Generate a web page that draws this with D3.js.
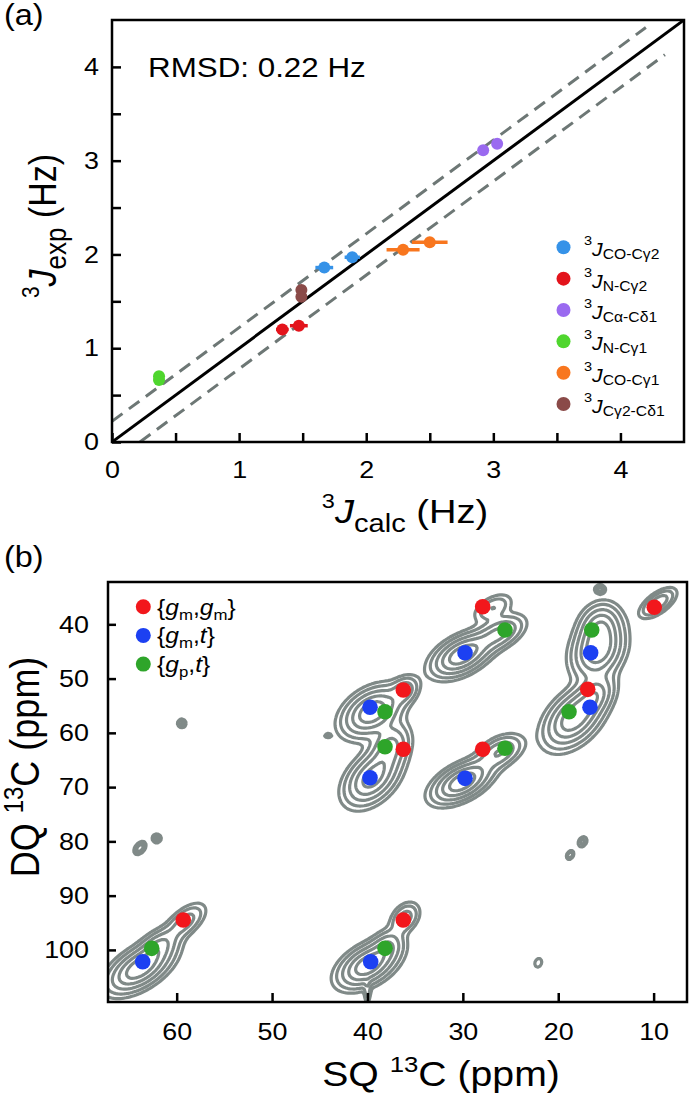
<!DOCTYPE html>
<html><head><meta charset="utf-8">
<script src="https://cdn.jsdelivr.net/npm/d3@7"></script>
<style>
body{margin:0;background:#fff}
svg{display:block}
text{font-family:"Liberation Sans",Arial,Helvetica,sans-serif;fill:#000}
</style>
</head><body>
<svg id="fig" width="691" height="1095"></svg>
<script>
// ---------------- Panel (a) data ----------------
const seriesSub = ["CO-C\u03b32","N-C\u03b32","C\u03b1-C\u03b41","N-C\u03b31","CO-C\u03b31","C\u03b32-C\u03b41"];
const seriesColors = ["#3592e8","#e3141c","#9a6af0","#4fd62e","#f8761e","#8a4a48"];
const jCalc = [[1.67,1.89],[1.34,1.47],[2.92,3.03],[0.37,0.37],[2.29,2.50],[1.49,1.49]];
const jExp  = [[1.86,1.97],[1.20,1.24],[3.11,3.18],[0.70,0.66],[2.05,2.13],[1.62,1.55]];
const jErr  = [[0.07,0.06],[0.05,0.07],[0.02,0.02],[0.04,0.04],[0.13,0.14],[0.01,0.01]];
const rmsd = 0.22;
const upperBandX = [0, 4.2];
const lowerBandX = [0.22, 4.35];
const ticksA = [0,0.5,1,1.5,2,2.5,3,3.5,4];

// ---------------- Panel (b) data ----------------
const ticksSQ = [60,50,40,30,20,10];
const ticksDQ = [40,50,60,70,80,90,100];
const rotColors = ["#f2171c","#1c40f2","#2ea52a"];
const rotFirst = ["m","m","p"];
const rotSecond = [["g","m"],["t",""],["t",""]];
const sqGmGm = [27.92, 9.93, 16.91, 36.24, 36.24, 27.92, 59.31, 36.24];
const dqGmGm = [36.75, 36.86, 51.98, 52.10, 63.03, 63.03, 94.49, 94.49];
const sqGmT  = [29.77, 16.60, 16.67, 39.73, 39.73, 29.77, 63.56, 39.66];
const dqGmT  = [45.23, 45.23, 55.29, 55.29, 68.27, 68.38, 102.18, 102.18];
const sqGpT  = [25.58, 16.49, 18.87, 38.16, 38.16, 25.58, 62.62, 38.16];
const dqGpT  = [41.05, 41.05, 56.10, 56.10, 62.55, 62.85, 99.71, 99.71];
// spectrum peaks (SQ ppm, DQ ppm, relative intensity, widths in ppm, tilt in degrees)
const peakSQ = [30.09,26.11,26.84, 15.83,15.62, 18.35,16.15, 9.54, 39.52,39.52,36.07,37.60, 30.09,26.11, 63.85,59.13,61.75, 39.94,36.07,37.85, 63.85,62.10,59.46,15.62,17.45,18.75,22.09,44.15,40.0];
const peakDQ = [45.65,41.60,36.99, 44.73,40.12, 57.26,53.03, 36.07, 56.16,68.32,52.10,62.50, 69.06,63.53, 103.34,94.86,99.10, 102.79,94.12,99.10, 81.22,79.44,58.26,33.55,80.08,82.51,102.38,60.53,107.8];
const peakAmp = [1,0.55,0.30, 1,0.55, 1,0.5, 0.45, 1,0.9,0.4,0.55, 1,0.5, 1,0.4,0.4, 1,0.4,0.35, 0.5,0.4,0.35,0.4,0.2,0.3,0.15,0.15,0.2];
const peakWAlong = [1.89,1.57,1.26, 1.78,1.36, 2.05,1.36, 1.26, 1.89,1.89,0.94,1.47, 1.89,1.47, 2.10,1.47,1.26, 1.89,1.05,1.05, 0.42,0.26,0.26,0.31,0.42,0.31,0.42,0.26,0.8];
const peakWAcross = [1.0,0.84,0.68, 1.36,1.15, 1.26,0.94, 0.58, 1.20,1.20,0.73,1.05, 0.94,0.84, 1.05,0.73,0.84, 1.05,0.73,0.84, 0.26,0.26,0.26,0.26,0.31,0.21,0.31,0.16,0.2];
const peakTilt = [-28,-28,-28, -60,-60, -45,-45, -36, -32,-45,-45,-60, -28,-28, -32,-40,-35, -30,-50,-40, -50,0,0,0,-60,-60,-70,0,-90];
const contourLevels = [0.08,0.16,0.3,0.5,0.75];

// ---------------- drawing ----------------
const S = 1.12; // horizontal stretch of the lettering
const svg = d3.select("#fig");
function rich(g, x, y, parts, anchor, rotate){
  const t = g.append("text").attr("x",0).attr("y",0).attr("text-anchor",anchor||"start")
    .attr("transform",`translate(${x},${y}) scale(${S},1)` + (rotate?` rotate(${rotate})`:""));
  parts.forEach(p=>{
    const s = t.append("tspan").text(p.t).attr("font-size",p.s);
    if(p.dy) s.attr("dy",p.dy);
    if(p.i) s.attr("font-style","italic");
  });
  return t;
}
function styleAxis(g, fs){
  g.select(".domain").remove();
  g.selectAll(".tick line").attr("stroke","#000").attr("stroke-width",2.5);
  g.selectAll(".tick text").attr("font-size",fs).attr("fill","#000")
    .style("font-family",'"Liberation Sans",Arial,sans-serif')
    .attr("x", function(){ return (+this.getAttribute("x")||0)/S; })
    .attr("transform",`scale(${S},1)`);
}

// ===== Panel (a) =====
const xA = d3.scaleLinear().domain([0,4.5]).range([112,684]);
const yA = d3.scaleLinear().domain([0,4.5]).range([442,20]);
const gA = svg.append("g");
const defs = svg.append("defs");
defs.append("clipPath").attr("id","clipA").append("rect")
  .attr("x",xA(0)).attr("y",yA(4.5)).attr("width",xA(4.5)-xA(0)).attr("height",yA(0)-yA(4.5));

const lines = gA.append("g").attr("clip-path","url(#clipA)");
lines.append("line").attr("x1",xA(upperBandX[0])).attr("y1",yA(upperBandX[0]+rmsd))
  .attr("x2",xA(upperBandX[1])).attr("y2",yA(upperBandX[1]+rmsd))
  .attr("stroke","#6d7775").attr("stroke-width",3).attr("stroke-dasharray","13,8");
lines.append("line").attr("x1",xA(lowerBandX[0])).attr("y1",yA(lowerBandX[0]-rmsd))
  .attr("x2",xA(lowerBandX[1])).attr("y2",yA(lowerBandX[1]-rmsd))
  .attr("stroke","#6d7775").attr("stroke-width",3).attr("stroke-dasharray","13,8");
lines.append("line").attr("x1",xA(0)).attr("y1",yA(0)).attr("x2",xA(4.5)).attr("y2",yA(4.5))
  .attr("stroke","#000").attr("stroke-width",3);

seriesColors.forEach((c,i)=>{
  jCalc[i].forEach((v,j)=>{
    const e = jErr[i][j], yv = jExp[i][j];
    gA.append("line").attr("x1",xA(v-e)).attr("x2",xA(v+e)).attr("y1",yA(yv)).attr("y2",yA(yv))
      .attr("stroke",c).attr("stroke-width",3.5);
    gA.append("circle").attr("cx",xA(v)).attr("cy",yA(yv)).attr("r",6).attr("fill",c);
  });
});

const fmtA = d => Number.isInteger(d) ? d : "";
gA.append("g").attr("transform",`translate(0,${yA(0)})`)
  .call(d3.axisBottom(xA).tickValues(ticksA).tickFormat(fmtA).tickSizeInner(-9).tickSizeOuter(0).tickPadding(19))
  .call(g=>styleAxis(g,24));
gA.append("g").attr("transform",`translate(${xA(0)},0)`)
  .call(d3.axisLeft(yA).tickValues(ticksA).tickFormat(fmtA).tickSizeInner(-9).tickSizeOuter(0).tickPadding(13))
  .call(g=>styleAxis(g,24));
gA.append("rect").attr("x",xA(0)).attr("y",yA(4.5)).attr("width",xA(4.5)-xA(0)).attr("height",yA(0)-yA(4.5))
  .attr("fill","none").attr("stroke","#000").attr("stroke-width",2.5);

rich(gA, 148, 77, [{t:"RMSD: 0.22 Hz",s:28}]);
rich(gA, 4, 25, [{t:"(a)",s:29}]);

rich(gA, 405, 523, [{t:"3",s:21,dy:-15},{t:"J",s:34,dy:15,i:true},{t:"calc",s:26,dy:9},{t:" (Hz)",s:34,dy:-9}], "middle");
rich(gA, 56, 226, [{t:"3",s:21,dy:-15},{t:"J",s:34,dy:15,i:true},{t:"exp",s:26,dy:9},{t:" (Hz)",s:34,dy:-9}], "middle", -90);

// legend (a)
seriesColors.forEach((c,i)=>{
  const cy = 247.3 + i*31.35;
  gA.append("circle").attr("cx",563.5).attr("cy",cy).attr("r",7).attr("fill",c);
  rich(gA, 584, cy+9, [{t:"3",s:13,dy:-11},{t:"J",s:19,dy:11,i:true},{t:seriesSub[i],s:14,dy:3}], "start");
});

// ===== Panel (b) =====
const xB = d3.scaleLinear().domain([67.2,6.5]).range([108,687]);
const yB = d3.scaleLinear().domain([32.2,109.6]).range([582,1002]);
const gB = svg.append("g");
defs.append("clipPath").attr("id","clipB").append("rect")
  .attr("x",xB(67.2)).attr("y",yB(32.2)).attr("width",xB(6.5)-xB(67.2)).attr("height",yB(109.6)-yB(32.2));

// contour field built from the peak list
const step = 2;
const X0 = xB.range()[0], Y0 = yB.range()[0];
const W = xB.range()[1]-X0, H = yB.range()[1]-Y0;
const nx = Math.ceil(W/step)+2, ny = Math.ceil(H/step)+2;
const ppm = Math.abs(xB(1)-xB(0));
const peaks = peakSQ.map((s,i)=>({cx:xB(s), cy:yB(peakDQ[i]), a:peakAmp[i],
  sa:peakWAlong[i]*ppm, sc:peakWAcross[i]*ppm, th:peakTilt[i]*Math.PI/180}));
const field = new Float64Array(nx*ny);
for(let j=0;j<ny;j++){
  const py = Y0 + j*step;
  for(let i=0;i<nx;i++){
    const px = X0 + i*step;
    let v = 0;
    for(const p of peaks){
      const dx = px-p.cx, dy = py-p.cy;
      const u = dx*Math.cos(p.th)+dy*Math.sin(p.th);
      const w = -dx*Math.sin(p.th)+dy*Math.cos(p.th);
      const q = u*u/(2*p.sa*p.sa) + w*w/(2*p.sc*p.sc);
      if(q<30) v += p.a*Math.exp(-q);
    }
    field[j*nx+i] = v;
  }
}
const cont = d3.contours().size([nx,ny]).thresholds(contourLevels)(field);
const gp = d3.geoPath(d3.geoIdentity().scale(step).translate([X0-step/2, Y0-step/2]));
gB.append("g").attr("clip-path","url(#clipB)").selectAll("path").data(cont).join("path")
  .attr("d",gp).attr("fill","none").attr("stroke","#808a88").attr("stroke-width",3.2)
  .attr("stroke-linejoin","round");

// dots
const dotSets = [[sqGmGm,dqGmGm],[sqGmT,dqGmT],[sqGpT,dqGpT]];
dotSets.forEach((d,k)=>{
  d[0].forEach((s,i)=>{
    gB.append("circle").attr("cx",xB(s)).attr("cy",yB(d[1][i])).attr("r",7.8).attr("fill",rotColors[k]);
  });
});

gB.append("g").attr("transform",`translate(0,${yB(109.6)})`)
  .call(d3.axisBottom(xB).tickValues(ticksSQ).tickSizeInner(-9).tickSizeOuter(0).tickPadding(21))
  .call(g=>styleAxis(g,24));
gB.append("g").attr("transform",`translate(${xB(67.2)},0)`)
  .call(d3.axisLeft(yB).tickValues(ticksDQ).tickSizeInner(-8).tickSizeOuter(0).tickPadding(19))
  .call(g=>styleAxis(g,24));
gB.append("rect").attr("x",xB(67.2)).attr("y",yB(32.2)).attr("width",xB(6.5)-xB(67.2)).attr("height",yB(109.6)-yB(32.2))
  .attr("fill","none").attr("stroke","#000").attr("stroke-width",2.5);

rich(gB, 4, 567, [{t:"(b)",s:29}]);
rich(gB, 441, 1086, [{t:"SQ ",s:35},{t:"13",s:23,dy:-14},{t:"C (ppm)",s:35,dy:14}], "middle");
rich(gB, 39, 767, [{t:"DQ ",s:36},{t:"13",s:24,dy:-14},{t:"C (ppm)",s:36,dy:14}], "middle", -90);

// legend (b)
rotColors.forEach((c,k)=>{
  const cy = 606.7 + k*28.7;
  gB.append("circle").attr("cx",143.3).attr("cy",cy).attr("r",7.5).attr("fill",c);
  const parts = [{t:"{",s:22},{t:"g",s:22,i:true},{t:rotFirst[k],s:15,dy:5},{t:",",s:22,dy:-5}];
  if(rotSecond[k][1]){
    parts.push({t:rotSecond[k][0],s:22,i:true},{t:rotSecond[k][1],s:15,dy:5},{t:"}",s:22,dy:-5});
  } else {
    parts.push({t:rotSecond[k][0],s:22,i:true},{t:"}",s:22});
  }
  rich(gB, 157, cy+8, parts, "start");
});
</script>
</body></html>
